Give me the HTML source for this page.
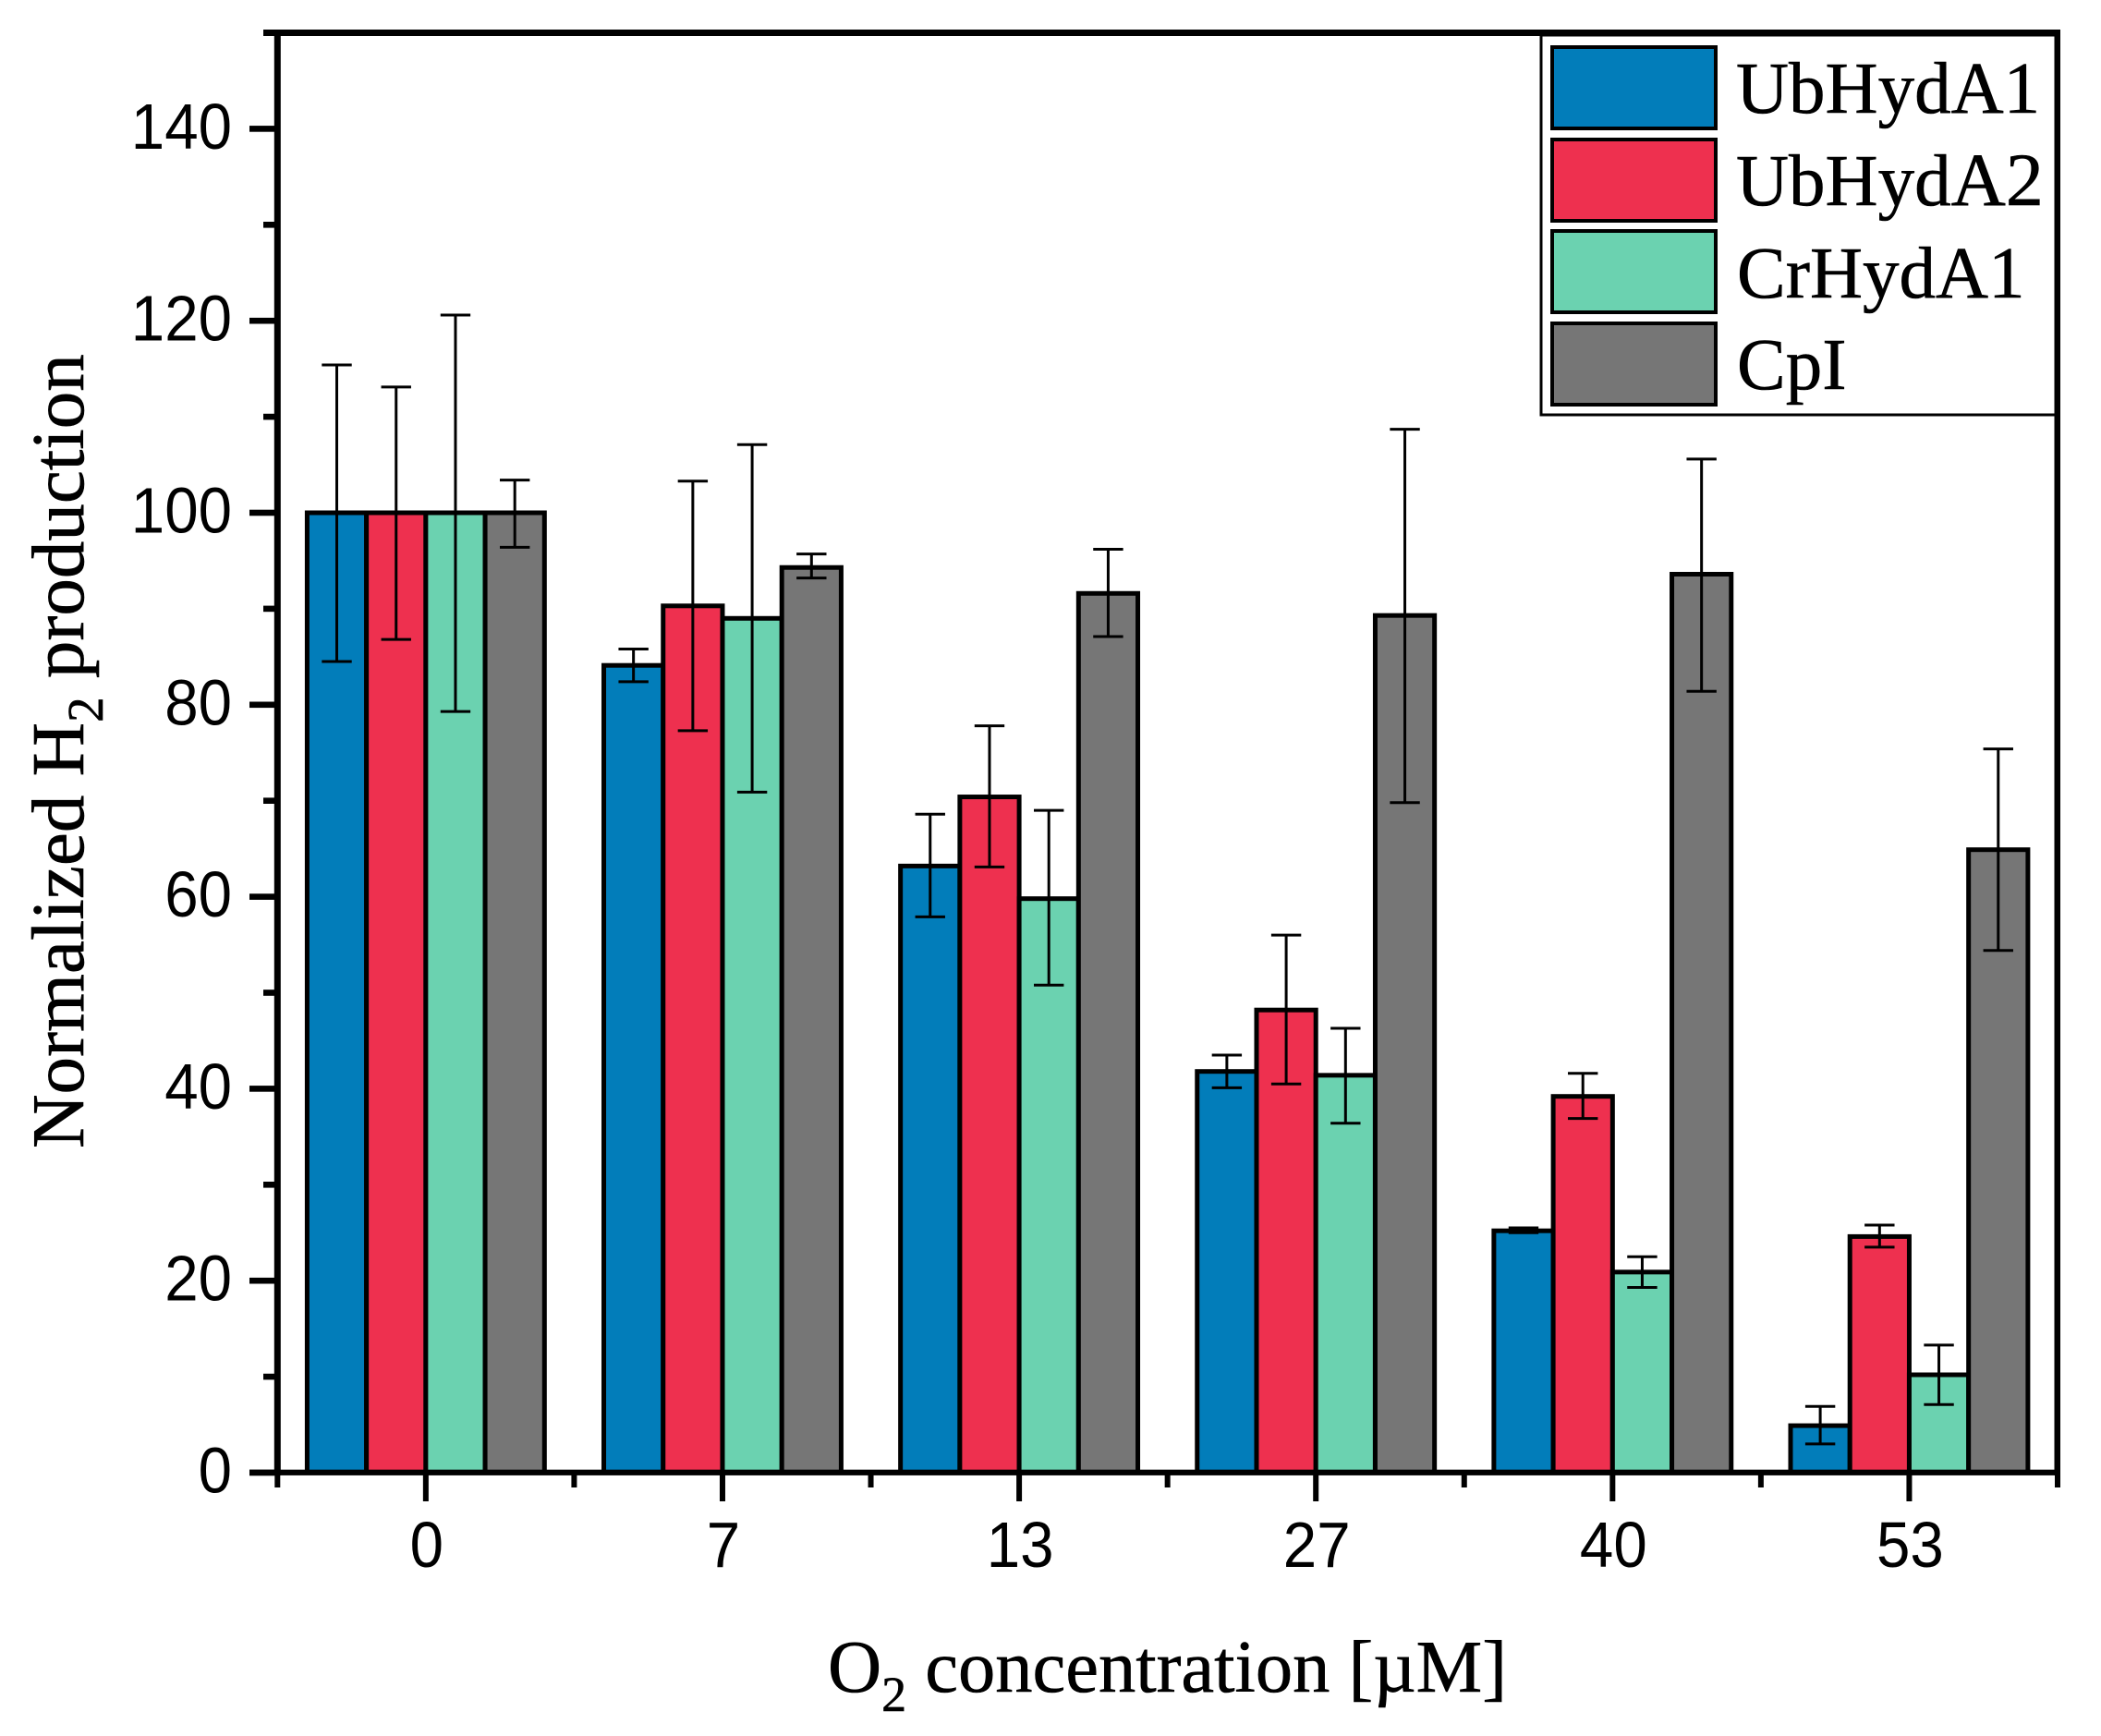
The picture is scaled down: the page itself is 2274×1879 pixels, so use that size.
<!DOCTYPE html>
<html lang="en">
<head>
<meta charset="utf-8">
<title>Normalized H2 production vs O2 concentration</title>
<style>
html,body{margin:0;padding:0;background:#fff;}
svg{display:block;}
.tick{font-family:"Liberation Sans",sans-serif;font-size:69.5px;fill:#000;}
.serif{font-family:"Liberation Serif",serif;fill:#000;stroke:#000;stroke-width:0.6px;}
.legend-text{font-family:"Liberation Serif",serif;font-size:79px;fill:#000;stroke:#000;stroke-width:0.6px;}
</style>
</head>
<body>
<svg id="chart" xmlns="http://www.w3.org/2000/svg" width="2274" height="1879" viewBox="0 0 2274 1879">
  <rect x="0" y="0" width="2274" height="1879" fill="#fff"/>
  <g id="bars"></g>
  <g id="errors"></g>
  <g id="axes"></g>
  <g id="labels"></g>
  <text class="serif" x="896" y="1831" font-size="80.5">O<tspan font-size="54" dy="21">2</tspan><tspan dy="-21"> concentration [µM]</tspan></text>
  <text class="serif" transform="translate(90 1243) rotate(-90)" font-size="81">Normalized H<tspan font-size="55" dy="21">2</tspan><tspan dy="-21"> production</tspan></text>
  <g>
    <rect x="1668" y="38" width="557" height="411" fill="#fff" stroke="#000" stroke-width="3"/>
    <rect x="1680" y="51" width="177" height="88" fill="#027DBA" stroke="#000" stroke-width="4"/>
    <rect x="1680" y="151" width="177" height="88" fill="#EE304F" stroke="#000" stroke-width="4"/>
    <rect x="1680" y="250" width="177" height="88" fill="#6BD2B0" stroke="#000" stroke-width="4"/>
    <rect x="1680" y="350" width="177" height="88" fill="#767676" stroke="#000" stroke-width="4"/>
    <text class="legend-text" x="1879" y="122">UbHydA1</text>
    <text class="legend-text" x="1879" y="222">UbHyd<tspan font-size="82">A2</tspan></text>
    <text class="legend-text" x="1880" y="322">CrHydA1</text>
    <text class="legend-text" x="1880" y="421">CpI</text>
  </g>
</svg>
<script>
var categories = ['0', '7', '13', '27', '40', '53'];
var seriesNames = ['UbHydA1', 'UbHydA2', 'CrHydA1', 'CpI'];
var seriesColors = ['#027DBA', '#EE304F', '#6BD2B0', '#767676'];
var ubHydA1 = [100, 84.1, 63.2, 41.8, 25.2, 4.9];
var ubHydA1Hi = [115.4, 85.8, 68.6, 43.5, 25.5, 6.9];
var ubHydA1Lo = [84.5, 82.4, 57.9, 40.1, 25.0, 3.0];
var ubHydA2 = [100, 90.3, 70.4, 48.2, 39.2, 24.6];
var ubHydA2Hi = [113.1, 103.3, 77.8, 56.0, 41.6, 25.8];
var ubHydA2Lo = [86.8, 77.3, 63.1, 40.5, 36.9, 23.5];
var crHydA1 = [100, 89.0, 59.8, 41.4, 20.9, 10.2];
var crHydA1Hi = [120.6, 107.1, 69.0, 46.3, 22.5, 13.3];
var crHydA1Lo = [79.3, 70.9, 50.8, 36.4, 19.3, 7.1];
var cpI = [100, 94.3, 91.6, 89.3, 93.6, 64.9];
var cpIHi = [103.4, 95.7, 96.2, 108.7, 105.6, 75.4];
var cpILo = [96.4, 93.2, 87.1, 69.8, 81.4, 54.4];
var yTickLabels = ['0', '20', '40', '60', '80', '100', '120', '140'];
var yMinorTicks = [10, 30, 50, 70, 90, 110, 130, 150];

var SVGNS = 'http://www.w3.org/2000/svg';
var PLOT_LEFT = 300.3, PLOT_RIGHT = 2227, PLOT_TOP = 35.5, Y0 = 1594;
var Y_MAX = 150;
var DIGIT_WIDTH = 36.4;
function yScale(v) { return Y0 - v * (Y0 - PLOT_TOP) / Y_MAX; }
function xBand() { return (PLOT_RIGHT - PLOT_LEFT) / categories.length; }
function xCenter(i) { return PLOT_LEFT + xBand() * (i + 0.5); }
function barWidth() { return xBand() * 0.2; }
function make(tag, attrs, parent) {
  var el = document.createElementNS(SVGNS, tag);
  for (var k in attrs) { el.setAttribute(k, attrs[k]); }
  parent.appendChild(el);
  return el;
}
var barsG = document.getElementById('bars');
var errG = document.getElementById('errors');
var axesG = document.getElementById('axes');
var labelsG = document.getElementById('labels');
var seriesVals = [ubHydA1, ubHydA2, crHydA1, cpI];
var seriesHi = [ubHydA1Hi, ubHydA2Hi, crHydA1Hi, cpIHi];
var seriesLo = [ubHydA1Lo, ubHydA2Lo, crHydA1Lo, cpILo];

seriesVals.forEach(function (vals, s) {
  vals.forEach(function (v, i) {
    var bw = barWidth();
    var x = xCenter(i) + (s - 2) * bw;
    var bar = make('rect', {x: x, y: yScale(v), width: bw, height: Y0 - yScale(v), fill: seriesColors[s], stroke: '#000', 'stroke-width': 5}, barsG);
    
    
  });
});
seriesVals.forEach(function (vals, s) {
  vals.forEach(function (v, i) {
    var bw = barWidth();
    var cx = xCenter(i) + (s - 1.5) * bw;
    var hi = yScale(seriesHi[s][i]);
    var lo = yScale(seriesLo[s][i]);
    var d = 'M' + cx + ' ' + hi + 'V' + lo + 'M' + (cx - 16.2) + ' ' + hi + 'H' + (cx + 16.2) + 'M' + (cx - 16.2) + ' ' + lo + 'H' + (cx + 16.2);
    var err = make('path', {d: d, fill: 'none', stroke: '#000', 'stroke-width': 3}, errG);
    
    
  });
});

var yAxisLine = make('rect', {x: 296.8, y: 32, width: 7, height: 1565, fill: '#000'}, axesG);


var xAxisLine = make('rect', {x: 270, y: 1590.7, width: 1960, height: 6.2, fill: '#000'}, axesG);


var topLine = make('rect', {x: 285, y: 32, width: 1945, height: 7, fill: '#000'}, axesG);


var rightLine = make('rect', {x: 2223.5, y: 32, width: 6.5, height: 1565, fill: '#000'}, axesG);



yTickLabels.forEach(function (t) {
  var v = parseFloat(t);
  var y = yScale(v);
  var mark = make('rect', {x: 270, y: y - 3.3, width: 30, height: 6.6, fill: '#000'}, axesG);
  
  
  var lab = make('text', {x: 251, y: y + 21.5, 'text-anchor': 'end', 'class': 'tick', textLength: DIGIT_WIDTH * t.length, lengthAdjust: 'spacingAndGlyphs'}, labelsG);
  lab.textContent = t;
  
  
});
yMinorTicks.forEach(function (v) {
  var mark = make('rect', {x: 285, y: yScale(v) - 3.3, width: 15, height: 6.6, fill: '#000'}, axesG);
  
  
});
categories.forEach(function (c, i) {
  var cx = xCenter(i);
  var mark = make('rect', {x: cx - 3, y: 1594, width: 6, height: 31, fill: '#000'}, axesG);
  
  
  var lab = make('text', {x: cx + 1, y: 1696, 'text-anchor': 'middle', 'class': 'tick', textLength: DIGIT_WIDTH * c.length, lengthAdjust: 'spacingAndGlyphs'}, labelsG);
  lab.textContent = c;
  
  
});
for (var m = 0; m <= categories.length; m++) {
  var mx = PLOT_LEFT + xBand() * m;
  var minor = make('rect', {x: mx - 3, y: 1594, width: 6, height: 16, fill: '#000'}, axesG);
  
  
}
</script>
</body>
</html>
